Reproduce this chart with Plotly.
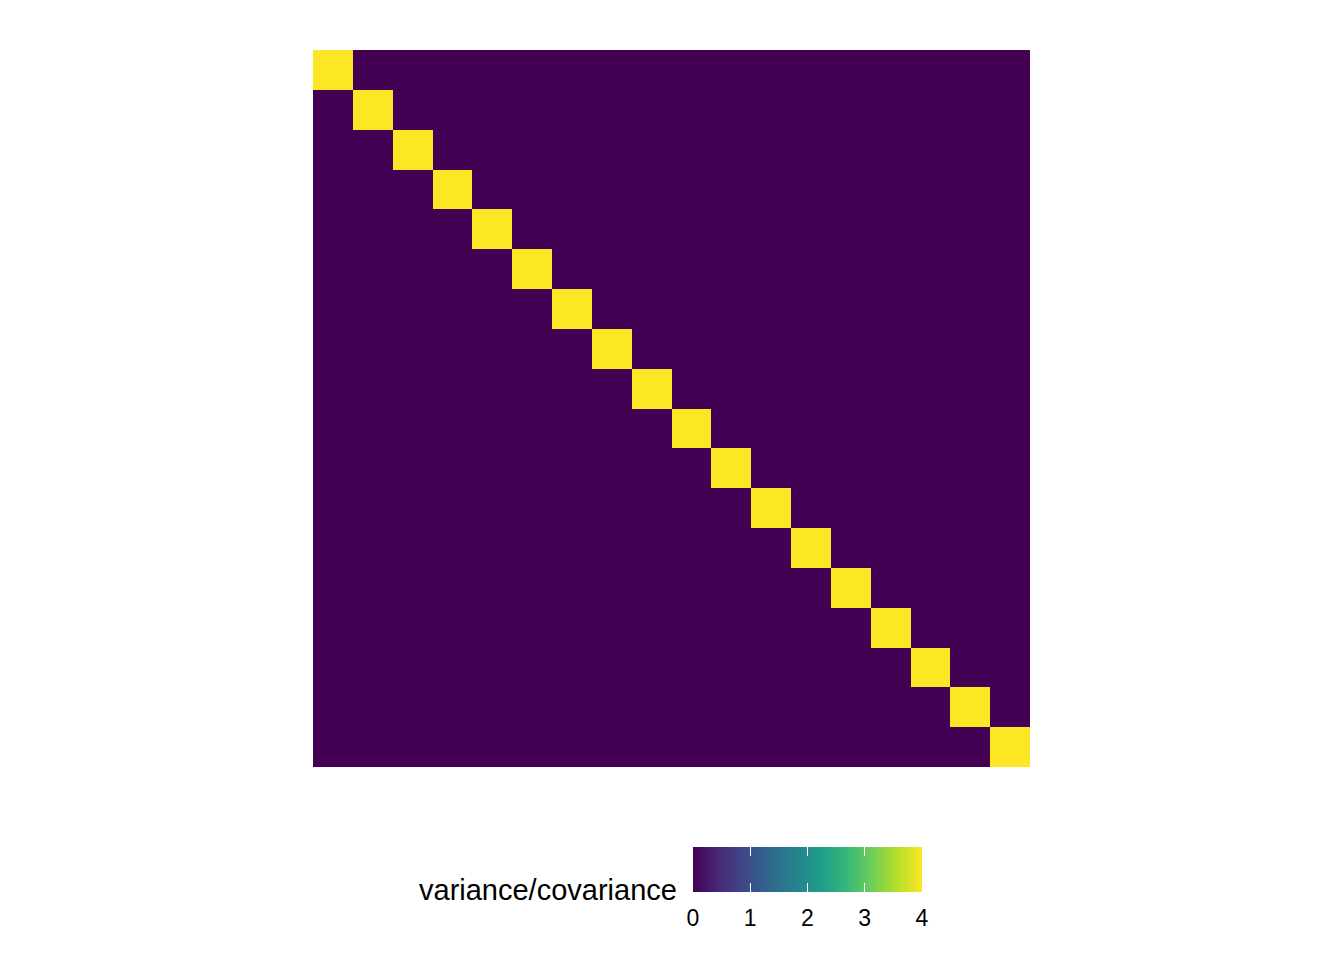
import numpy as np
import plotly.graph_objects as go

# 18 variables, independent, each with variance 4
variables = ["x1", "x2", "x3", "x4", "x5", "x6", "x7", "x8", "x9",
             "x10", "x11", "x12", "x13", "x14", "x15", "x16", "x17", "x18"]
variances = [4, 4, 4, 4, 4, 4, 4, 4, 4, 4, 4, 4, 4, 4, 4, 4, 4, 4]
cbar_ticks = [0, 1, 2, 3, 4]

cov = np.diag(variances).astype(float)   # off-diagonal covariances are 0

W, H = 1344, 960
font = "Liberation Sans, Arial"

fig = go.Figure()
fig.add_trace(go.Heatmap(
    z=cov, x=variables, y=variables,
    colorscale="Viridis", zmin=0, zmax=4, showscale=False,
    hovertemplate="%{y} / %{x}: %{z}<extra></extra>",
))

# legend bar drawn as a small smoothed heatmap so ticks can sit on both edges (ggplot style)
fig.add_trace(go.Heatmap(
    z=[cbar_ticks], x=cbar_ticks, y=[0],
    colorscale="Viridis", zmin=0, zmax=4, showscale=False,
    zsmooth="best", hoverinfo="skip",
    xaxis="x2", yaxis="y2",
))

fig.add_annotation(
    text="variance/covariance",
    xref="paper", yref="paper",
    x=671 / W, y=(H - 882) / H,
    xanchor="right", yanchor="middle",
    showarrow=False,
    font=dict(family=font, size=29, color="black"),
)

fig.update_layout(
    width=W, height=H,
    margin=dict(l=0, r=0, t=0, b=0, autoexpand=False),
    plot_bgcolor="white", paper_bgcolor="white",
    xaxis=dict(visible=False, automargin=False, domain=[305 / W, 1022 / W]),
    yaxis=dict(visible=False, automargin=False, autorange="reversed",
               domain=[(H - 759) / H, (H - 42) / H]),
    xaxis2=dict(domain=[685 / W, 914 / W], anchor="y2", range=[0, 4],
                automargin=False,
                tickvals=cbar_ticks, ticks="inside", ticklen=9,
                tickcolor="white", tickwidth=1.2, mirror="ticks",
                showline=False, showgrid=False, zeroline=False,
                ticklabelstandoff=10,
                tickfont=dict(family=font, size=23, color="black")),
    yaxis2=dict(domain=[(H - 884) / H, (H - 839) / H], anchor="x2",
                automargin=False, range=[-0.5, 0.5], visible=False),
)

fig.write_html("out.html")
